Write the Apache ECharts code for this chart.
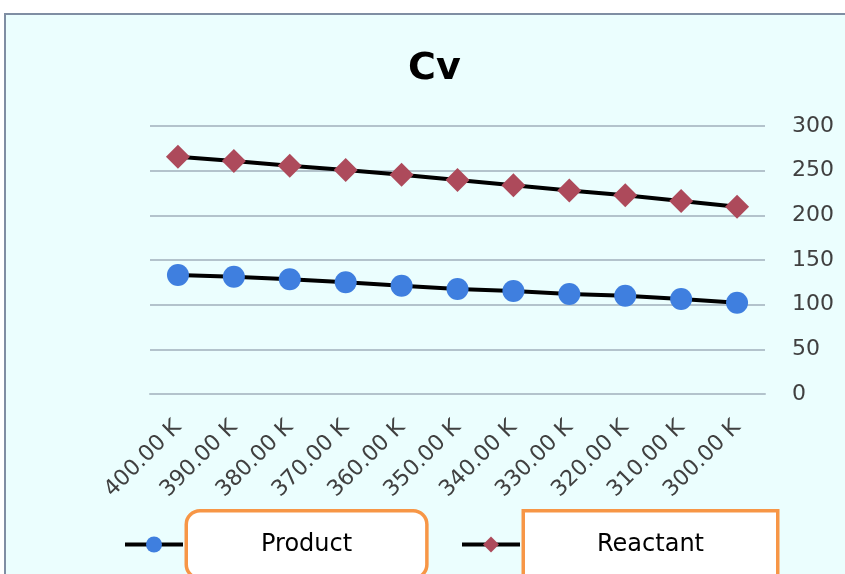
<!DOCTYPE html>
<html>
<head>
<meta charset="utf-8">
<style>
  html, body { margin: 0; padding: 0; background: #fff; }
  #chart { width: 845px; height: 574px; }
</style>
<script src="https://cdn.jsdelivr.net/npm/echarts@6/dist/echarts.min.js"></script>
</head>
<body>
<div id="chart"></div>
<script>
// 数据
const categories = ['400.00 K', '390.00 K', '380.00 K', '370.00 K', '360.00 K', '350.00 K',
    '340.00 K', '330.00 K', '320.00 K', '310.00 K', '300.00 K'];
const product = [133.2, 131.3, 128.4, 125.0, 121.2, 117.5, 115.3, 111.9, 110.0, 106.3, 102.2];
const reactant = [265.5, 260.7, 255.5, 250.7, 245.5, 239.6, 233.7, 227.8, 222.5, 216.1, 209.5];
const yTicks = {min: 0, max: 300, interval: 50};

const BLUE = '#3f7fdf';
const RED = '#ad4a5b';
const ORANGE = '#f79646';
const FONT = 'DejaVu Sans';

const chart = echarts.init(document.getElementById('chart'));

// legend 文字框
function boxText(radius, pad) {
    return {
        fontFamily: FONT,
        fontSize: 24,
        color: '#000',
        lineHeight: 26,
        backgroundColor: '#fff',
        borderColor: ORANGE,
        borderWidth: 3.5,
        borderRadius: radius,
        padding: [26, pad, 12, pad]
    };
}

function legendConf(name, left, textStyle) {
    return {
        data: [name],
        left: left,
        top: 504,
        itemWidth: 58,
        itemHeight: 20,
        lineStyle: {width: 4, color: '#000'},
        textStyle: textStyle
    };
}

chart.setOption({
    backgroundColor: '#fff',
    animation: false,
    graphic: [{
        type: 'rect',
        z: -10,
        silent: true,
        shape: {x: 5, y: 14, width: 860, height: 580},
        style: {fill: '#ebfefe', stroke: '#7f8ea3', lineWidth: 2}
    }],
    title: {
        text: 'Cv',
        left: 403,
        top: 45,
        textStyle: {fontFamily: FONT, fontSize: 38, fontWeight: 'bold', color: '#000'}
    },
    legend: [
        legendConf('Product', 118, boxText(12, 73)),
        legendConf('Reactant', 455, boxText(0, 72))
    ],
    grid: {left: 150, right: 80, top: 126, bottom: 180},
    xAxis: {
        type: 'category',
        data: categories,
        boundaryGap: true,
        axisLine: {lineStyle: {color: '#b3c3cc', width: 2}},
        axisTick: {show: false},
        axisLabel: {
            rotate: 45,
            margin: 30,
            fontFamily: FONT,
            fontSize: 22,
            color: '#404040'
        }
    },
    yAxis: {
        type: 'value',
        position: 'right',
        min: yTicks.min,
        max: yTicks.max,
        interval: yTicks.interval,
        axisLine: {show: false},
        axisTick: {show: false},
        axisLabel: {margin: 27, fontFamily: FONT, fontSize: 22, color: '#404040'},
        splitLine: {lineStyle: {color: '#b3c3cc', width: 2}}
    },
    series: [{
        name: 'Product',
        type: 'line',
        data: product,
        symbol: 'circle',
        symbolSize: 22,
        lineStyle: {color: '#000', width: 4},
        itemStyle: {color: BLUE}
    }, {
        name: 'Reactant',
        type: 'line',
        data: reactant,
        symbol: 'diamond',
        symbolSize: [24, 24],
        lineStyle: {color: '#000', width: 4},
        itemStyle: {color: RED}
    }]
});
</script>
</body>
</html>
